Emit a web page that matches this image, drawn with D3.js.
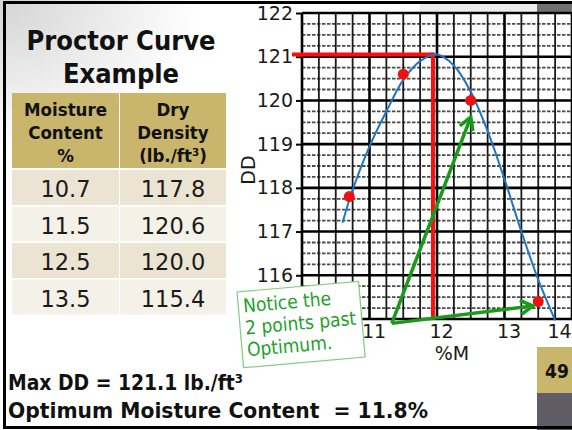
<!DOCTYPE html>
<html>
<head>
<meta charset="utf-8">
<script src="https://cdn.jsdelivr.net/npm/d3@7"></script>
<style>
  body { margin: 0; background: #fff; }
  svg { display: block; }
</style>
</head>
<body>
<div id="chart"></div>
<script>
// datos de la tabla (ensayo Proctor)
var moisture = [10.7, 11.5, 12.5, 13.5];
var dryDensity = [117.8, 120.6, 120.0, 115.4];
var moistureText = ["10.7", "11.5", "12.5", "13.5"];
var densityText = ["117.8", "120.6", "120.0", "115.4"];

// curva ajustada
var curveMoisture = [10.6, 10.75, 11, 11.25, 11.5, 11.75, 12, 12.25, 12.5, 12.75, 13, 13.25, 13.5, 13.75];
var curveDD = [117.2, 117.95, 118.95, 119.75, 120.47, 120.9, 121.05, 120.8, 120.2, 119.3, 118.2, 117.0, 115.9, 114.97];

// optimo
var optMoisture = 11.94;
var maxDD = 121.05;

// flechas verdes (inicio comun y puntas)
var arrowStart = [11.33, 114.9];
var arrowEnds = [[12.5, 119.62], [13.42, 115.3]];

var xTicks = [11, 12, 13, 14];
var yTicks = [116, 117, 118, 119, 120, 121, 122];

var width = 572, height = 430;
var svg = d3.select("#chart").append("svg")
  .attr("width", width)
  .attr("height", height);

var defs = svg.append("defs");
var bgGrad = defs.append("radialGradient").attr("id", "bg")
  .attr("cx", 0).attr("cy", 0).attr("r", 0.35);
bgGrad.append("stop").attr("offset", "0%").attr("stop-color", "#d4d4d4");
bgGrad.append("stop").attr("offset", "100%").attr("stop-color", "#ffffff");

defs.append("marker").attr("id", "arrow")
  .attr("viewBox", "0 0 10 10").attr("refX", 8).attr("refY", 5)
  .attr("markerWidth", 5).attr("markerHeight", 5)
  .attr("orient", "auto")
  .append("path").attr("d", "M1,1 L8,5 L1,9")
  .attr("fill", "none").attr("stroke", "#1a9a1a").attr("stroke-width", 2);

svg.append("rect").attr("width", width).attr("height", height).attr("fill", "url(#bg)");

// franja superior y tiras grises de la derecha
svg.append("rect").attr("x", 420).attr("y", 4).attr("width", 117).attr("height", 8).attr("fill", "#ececec");
svg.append("rect").attr("x", 537).attr("y", 4).attr("width", 40).attr("height", 8).attr("fill", "#707070");
svg.append("rect").attr("x", 537).attr("y", 347).attr("width", 40).attr("height", 46).attr("fill", "#c9b56c");
svg.append("rect").attr("x", 537).attr("y", 393).attr("width", 40).attr("height", 40).attr("fill", "#605c66");
svg.append("text").attr("x", 557).attr("y", 378).attr("text-anchor", "middle")
  .style("font-family", "DejaVu Sans Condensed, DejaVu Sans").style("font-weight", "bold")
  .style("font-size", "19px").attr("fill", "#111").text("49");

// escalas
var x = d3.scaleLinear().domain([10, 14]).range([302, 572]);
var y = d3.scaleLinear().domain([115, 122]).range([319, 13]);

// cuadricula
var grid = svg.append("g");
var minorX = d3.range(10.25, 14.01, 0.25).filter(function(d) { return Math.abs(d - Math.round(d)) > 0.01; });
var minorY = d3.range(115.25, 122, 0.25).filter(function(d) { return Math.abs(d - Math.round(d)) > 0.01; });

grid.selectAll(".hminor").data(minorY).enter().append("line")
  .attr("x1", x(10)).attr("x2", x(14))
  .attr("y1", function(d) { return y(d); }).attr("y2", function(d) { return y(d); })
  .attr("stroke", "#4a4a4a").attr("stroke-width", 1.8).attr("stroke-dasharray", "3.5,1.5");
grid.selectAll(".vminor").data(minorX).enter().append("line")
  .attr("x1", function(d) { return x(d); }).attr("x2", function(d) { return x(d); })
  .attr("y1", y(122)).attr("y2", y(115))
  .attr("stroke", "#1a1a1a").attr("stroke-width", 1.8);
grid.selectAll(".hmajor").data(d3.range(115, 123)).enter().append("line")
  .attr("x1", x(10)).attr("x2", x(14))
  .attr("y1", function(d) { return y(d); }).attr("y2", function(d) { return y(d); })
  .attr("stroke", "#000").attr("stroke-width", 2.6);
grid.selectAll(".vmajor").data(d3.range(10, 15)).enter().append("line")
  .attr("x1", function(d) { return x(d); }).attr("x2", function(d) { return x(d); })
  .attr("y1", y(122)).attr("y2", y(115))
  .attr("stroke", "#000").attr("stroke-width", 2.6);

// ejes
var yAxis = svg.append("g").attr("transform", "translate(" + x(10) + ",0)")
  .call(d3.axisLeft(y).tickValues(yTicks).tickSize(6).tickPadding(3).tickFormat(d3.format("d")));
var xAxis = svg.append("g").attr("transform", "translate(0," + y(115) + ")")
  .call(d3.axisBottom(x).tickValues(xTicks).tickSize(0).tickPadding(6).tickFormat(d3.format("d")));
[yAxis, xAxis].forEach(function(a) {
  a.select(".domain").remove();
  a.selectAll("line").attr("stroke", "#000").attr("stroke-width", 2);
  a.selectAll("text").style("font-family", "DejaVu Sans").style("font-size", "19px").attr("fill", "#1a1a1a");
});
// etiquetas un poco a la derecha; la ultima queda en el borde y se corre a la izquierda
xAxis.selectAll(".tick text").attr("dx", function(d) { return d === 14 ? -13 : 4; });

svg.append("text").attr("transform", "translate(255,170) rotate(-90)")
  .attr("text-anchor", "middle")
  .style("font-family", "DejaVu Sans").style("font-size", "19px").attr("fill", "#1a1a1a").text("DD");
svg.append("text").attr("x", 452).attr("y", 360).attr("text-anchor", "middle")
  .style("font-family", "DejaVu Sans").style("font-size", "19px").attr("fill", "#1a1a1a").text("%M");

// lineas rojas del optimo
svg.append("line").attr("x1", x(10) - 10).attr("x2", x(optMoisture))
  .attr("y1", y(maxDD)).attr("y2", y(maxDD))
  .attr("stroke", "#ff0d0d").attr("stroke-width", 4);
svg.append("line").attr("x1", x(optMoisture)).attr("x2", x(optMoisture))
  .attr("y1", y(maxDD) - 2).attr("y2", y(115))
  .attr("stroke", "#ff0d0d").attr("stroke-width", 4);

// curva
var curvePts = curveMoisture.map(function(m, i) { return [m, curveDD[i]]; });
var line = d3.line()
  .x(function(d) { return x(d[0]); })
  .y(function(d) { return y(d[1]); })
  .curve(d3.curveCatmullRom);
svg.append("path").datum(curvePts)
  .attr("d", line).attr("fill", "none")
  .attr("stroke", "#1f77c4").attr("stroke-width", 2);

// puntos
var pts = moisture.map(function(m, i) { return [m, dryDensity[i]]; });
svg.selectAll(".dot").data(pts).enter().append("circle")
  .attr("cx", function(d) { return x(d[0]); })
  .attr("cy", function(d) { return y(d[1]); })
  .attr("r", 5.5).attr("fill", "#f01010");

// flechas verdes
svg.selectAll(".arrow").data(arrowEnds).enter().append("line")
  .attr("x1", x(arrowStart[0])).attr("y1", y(arrowStart[1]))
  .attr("x2", function(d) { return x(d[0]); })
  .attr("y2", function(d) { return y(d[1]); })
  .attr("stroke", "#1a9a1a").attr("stroke-width", 3.5)
  .attr("marker-end", "url(#arrow)");

// caja de nota
var note = svg.append("g").attr("transform", "translate(237,292) rotate(-5)");
note.append("rect").attr("width", 122).attr("height", 76)
  .attr("fill", "#fff").attr("stroke", "#7fcf7f").attr("stroke-width", 1.2);
["Notice the", "2 points past", "Optimum."].forEach(function(t, i) {
  note.append("text").attr("x", 5).attr("y", 21 + i * 22)
    .style("font-family", "DejaVu Sans Condensed, DejaVu Sans").style("font-size", "19px")
    .attr("fill", "#22a02a").text(t);
});

// titulo
var titleFont = "DejaVu Sans Condensed, DejaVu Sans";
["Proctor Curve", "Example"].forEach(function(t, i) {
  svg.append("text").attr("x", 121).attr("y", 50 + i * 33).attr("text-anchor", "middle")
    .style("font-family", titleFont).style("font-weight", "bold").style("font-size", "27px")
    .attr("fill", "#111").text(t);
});

// tabla
var colX = [12, 120], colW = [107, 106];
var headY = 93, headH = 75, rowH = 36.5;
var rowFill = ["#ebe4d2", "#f4f1e8", "#ebe4d2", "#f4f1e8"];
colX.forEach(function(cx, j) {
  svg.append("rect").attr("x", cx).attr("y", headY).attr("width", colW[j]).attr("height", headH)
    .attr("fill", "#c9b56c");
});
var headers = [["Moisture", "Content", "%"], ["Dry", "Density", "(lb./ft³)"]];
headers.forEach(function(h, j) {
  h.forEach(function(t, k) {
    svg.append("text").attr("x", colX[j] + colW[j] / 2).attr("y", headY + 23 + k * 23)
      .attr("text-anchor", "middle")
      .style("font-family", titleFont).style("font-weight", "bold").style("font-size", "18.5px")
      .attr("fill", "#111").text(t);
  });
});
var rows = svg.selectAll(".row").data(moistureText).enter().append("g")
  .attr("transform", function(d, i) { return "translate(0," + (headY + headH + 2 + i * rowH) + ")"; });
colX.forEach(function(cx, j) {
  rows.append("rect").attr("x", cx).attr("y", 0).attr("width", colW[j]).attr("height", rowH - 1.5)
    .attr("fill", function(d, i) { return rowFill[i]; });
});
rows.append("text").attr("x", colX[0] + colW[0] / 2).attr("y", 27).attr("text-anchor", "middle")
  .style("font-family", "DejaVu Sans").style("font-size", "22.5px").attr("fill", "#1a1a1a")
  .text(function(d) { return d; });
rows.append("text").attr("x", colX[1] + colW[1] / 2).attr("y", 27).attr("text-anchor", "middle")
  .style("font-family", "DejaVu Sans").style("font-size", "22.5px").attr("fill", "#1a1a1a")
  .text(function(d, i) { return densityText[i]; });

// resultados
svg.append("text").attr("x", 8).attr("y", 390)
  .attr("textLength", 235).attr("lengthAdjust", "spacingAndGlyphs")
  .style("font-family", titleFont).style("font-weight", "bold").style("font-size", "22px")
  .attr("fill", "#111").text("Max DD = 121.1 lb./ft³");
svg.append("text").attr("x", 8).attr("y", 418)
  .attr("textLength", 420).attr("lengthAdjust", "spacingAndGlyphs")
  .style("font-family", titleFont).style("font-weight", "bold").style("font-size", "22px")
  .style("white-space", "pre")
  .attr("fill", "#111").text("Optimum Moisture Content  = 11.8%");

// marco negro
svg.append("rect").attr("x", 4.5).attr("y", 2.5).attr("width", width + 10).attr("height", 425)
  .attr("fill", "none").attr("stroke", "#000").attr("stroke-width", 3);
</script>
</body>
</html>
